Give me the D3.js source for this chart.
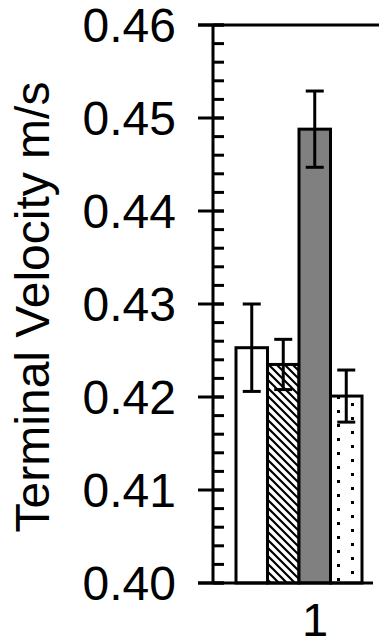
<!DOCTYPE html>
<html>
<head>
<meta charset="utf-8">
<script src="https://cdn.jsdelivr.net/npm/d3@7"></script>
<style>
  html, body { margin: 0; padding: 0; background: #fff; }
  svg { display: block; font-family: Arial, "Liberation Sans", sans-serif; }
</style>
</head>
<body>
<div id="viz"></div>
<script>
var categories = ['1'];
var seriesNames = ['A', 'B', 'C', 'D'];
var values = [0.4253, 0.4235, 0.4488, 0.4201];
var errors = [0.0047, 0.0027, 0.0041, 0.0028];
var yTicks = [0.40, 0.41, 0.42, 0.43, 0.44, 0.45, 0.46];
var yTitle = 'Terminal Velocity m/s';

var W = 379, H = 641;
var plot = { left: 213, right: 379, top: 25, bottom: 583 };

var svg = d3.select('#viz').append('svg')
  .attr('width', W)
  .attr('height', H);

var defs = svg.append('defs');
// wide downward diagonal
var hatch = defs.append('pattern')
  .attr('id', 'hatch')
  .attr('patternUnits', 'userSpaceOnUse')
  .attr('width', 8).attr('height', 8);
hatch.append('rect').attr('width', 8).attr('height', 8).attr('fill', '#fff');
hatch.append('path')
  .attr('d', 'M-2,-2 L10,10 M-2,6 L2,10 M6,-2 L10,2')
  .attr('stroke', '#000').attr('stroke-width', 2.2);
// sparse dots
var dots = defs.append('pattern')
  .attr('id', 'dots')
  .attr('patternUnits', 'userSpaceOnUse')
  .attr('x', 337).attr('y', 424)
  .attr('width', 28).attr('height', 14);
dots.append('rect').attr('width', 28).attr('height', 14).attr('fill', '#fff');
dots.append('rect').attr('x', 0).attr('y', 0).attr('width', 3).attr('height', 3).attr('fill', '#000');
dots.append('rect').attr('x', 14).attr('y', 7).attr('width', 3).attr('height', 3).attr('fill', '#000');

var fills = ['#ffffff', 'url(#hatch)', '#808080', 'url(#dots)'];

var y = d3.scaleLinear()
  .domain([0.40, 0.46])
  .range([plot.bottom, plot.top]);

var xCat = d3.scaleBand()
  .domain(categories)
  .range([213, 417]);

var xSer = d3.scaleBand()
  .domain(seriesNames)
  .range([236, 362]);

// top border line
svg.append('line')
  .attr('x1', 198).attr('x2', plot.right)
  .attr('y1', y(0.46)).attr('y2', y(0.46))
  .attr('stroke', '#000').attr('stroke-width', 3);

// bars
var bars = svg.append('g').attr('class', 'bars');
bars.selectAll('rect')
  .data(values)
  .enter()
  .append('rect')
  .attr('x', function (d, i) { return xSer(seriesNames[i]); })
  .attr('width', xSer.bandwidth())
  .attr('y', function (d) { return y(d); })
  .attr('height', function (d) { return y(0.40) - y(d); })
  .attr('fill', function (d, i) { return fills[i]; })
  .attr('stroke', '#000')
  .attr('stroke-width', 3);

// error bars
var eb = svg.append('g').attr('class', 'errors')
  .attr('stroke', '#000').attr('stroke-width', 3);
values.forEach(function (v, i) {
  var cx = xSer(seriesNames[i]) + xSer.bandwidth() / 2;
  var e = errors[i];
  eb.append('line')
    .attr('x1', cx).attr('x2', cx)
    .attr('y1', y(v + e)).attr('y2', y(v - e));
  [v + e, v - e].forEach(function (yy) {
    eb.append('line')
      .attr('x1', cx - 9).attr('x2', cx + 9)
      .attr('y1', y(yy)).attr('y2', y(yy));
  });
});

// y axis
var axis = svg.append('g').attr('class', 'y-axis');
axis.append('line')
  .attr('x1', plot.left).attr('x2', plot.left)
  .attr('y1', y(0.46)).attr('y2', y(0.40))
  .attr('stroke', '#000').attr('stroke-width', 3);
axis.selectAll('.minor')
  .data(y.ticks(24))
  .enter()
  .append('line')
  .attr('class', 'minor')
  .attr('x1', plot.left).attr('x2', plot.left + 11)
  .attr('y1', function (d) { return y(d); })
  .attr('y2', function (d) { return y(d); })
  .attr('stroke', '#000').attr('stroke-width', 3);
axis.selectAll('.major')
  .data(yTicks)
  .enter()
  .append('line')
  .attr('class', 'major')
  .attr('x1', plot.left - 15).attr('x2', plot.left + 11)
  .attr('y1', function (d) { return y(d); })
  .attr('y2', function (d) { return y(d); })
  .attr('stroke', '#000').attr('stroke-width', 3);
axis.selectAll('text')
  .data(yTicks)
  .enter()
  .append('text')
  .attr('x', 176)
  .attr('y', function (d) { return y(d); })
  .attr('dy', '0.35em')
  .attr('text-anchor', 'end')
  .attr('font-size', 48)
  .text(function (d) { return d.toFixed(2); });

// x axis
svg.append('line')
  .attr('x1', 198).attr('x2', 373)
  .attr('y1', y(0.40)).attr('y2', y(0.40))
  .attr('stroke', '#000').attr('stroke-width', 3);
svg.selectAll('.xlabel')
  .data(categories)
  .enter()
  .append('text')
  .attr('class', 'xlabel')
  .attr('x', function (d) { return xCat(d) + xCat.bandwidth() / 2; })
  .attr('y', 636)
  .attr('text-anchor', 'middle')
  .attr('font-size', 47)
  .text(function (d) { return d; });

// y title
svg.append('text')
  .attr('transform', 'translate(49,' + 307 + ') rotate(-90)')
  .attr('text-anchor', 'middle')
  .attr('font-size', 48)
  .text(yTitle);
</script>
</body>
</html>
